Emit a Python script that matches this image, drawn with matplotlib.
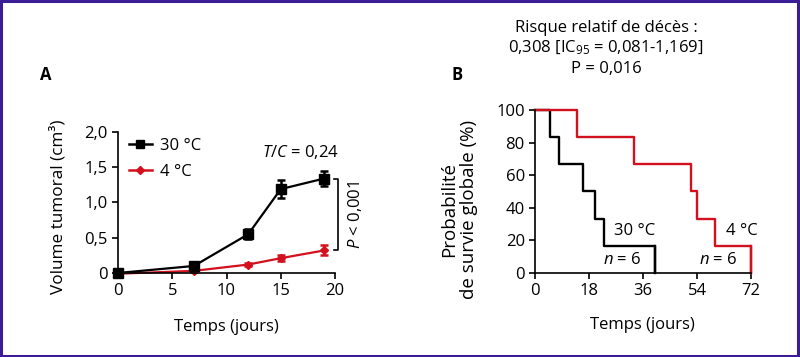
import numpy as np
import matplotlib
matplotlib.use('Agg')
import matplotlib.pyplot as plt
from matplotlib.patches import Rectangle
from matplotlib.lines import Line2D

plt.rcParams['font.family'] = ['Open Sans', 'DejaVu Sans']
plt.rcParams['mathtext.fontset'] = 'custom'
plt.rcParams['mathtext.rm'] = 'Open Sans'
plt.rcParams['mathtext.it'] = 'Open Sans:italic'
FS = 12

# Panel A : volume tumoral
jours = [0, 7, 12, 15, 19]
vol_30 = [0.0, 0.10, 0.55, 1.19, 1.34]
err_30 = [0.02, 0.03, 0.07, 0.13, 0.10]
vol_4 = [-0.01, 0.03, 0.12, 0.21, 0.32]
err_4 = [0.01, 0.01, 0.02, 0.04, 0.07]

# Panel B : survie globale (Kaplan-Meier)
t_30 = [0, 5, 8, 16, 20, 23, 40]
s_30 = [100, 83.3, 66.7, 50, 33.3, 16.7, 0]
t_4 = [0, 14, 33, 52, 54, 60, 72]
s_4 = [100, 83.3, 66.7, 50, 33.3, 16.7, 0]

rouge = '#d2101e'

fig = plt.figure(figsize=(8, 3.57), dpi=100)

def style_axes(ax):
    ax.spines['top'].set_visible(False)
    ax.spines['right'].set_visible(False)
    for s in ('left', 'bottom'):
        ax.spines[s].set_linewidth(1.2)
    ax.tick_params(direction='out', length=4.5, width=1.2, labelsize=FS, pad=3)

# ---- A
axA = fig.add_axes([0.1475, 0.2353, 0.2713, 0.395])
axA.errorbar(jours, vol_30, yerr=err_30, color='black', marker='s', ms=6.5,
             lw=1.6, elinewidth=1.8, capsize=3, capthick=1.8, clip_on=False,
             zorder=3)
axA.errorbar(jours, vol_4, yerr=err_4, color=rouge, marker='D', ms=4.5,
             lw=1.6, elinewidth=1.8, capsize=3, capthick=1.8, clip_on=False,
             zorder=2)
axA.set_xlim(0, 20)
axA.set_ylim(0, 2.0)
axA.set_xticks([0, 5, 10, 15, 20])
axA.set_yticks([0, 0.5, 1.0, 1.5, 2.0])
axA.set_yticklabels(['0', '0,5', '1,0', '1,5', '2,0'])
axA.set_xlabel('Temps (jours)', fontsize=FS, va='center')
axA.xaxis.set_label_coords(0.5, -0.383)
axA.set_ylabel('Volume tumoral (cm³)', fontsize=12.3, va='center')
axA.yaxis.set_label_coords(-0.276, 0.468)
style_axes(axA)
handles = [Line2D([], [], color='black', marker='s', ms=6, lw=1.8),
           Line2D([], [], color=rouge, marker='D', ms=4.5, lw=1.8)]
axA.legend(handles, ['30 °C', '4 °C'], loc='upper left', frameon=False,
           handlelength=1.4, bbox_to_anchor=(-0.02, 1.065), fontsize=FS,
           labelspacing=0.6, handletextpad=0.5)

axA.text(16.8, 1.72, '$T/C$ = 0,24', ha='center', va='center', fontsize=FS)
# bracket P
bx = 20.3
axA.plot([bx - 0.4, bx, bx, bx - 0.4], [vol_30[-1], vol_30[-1], vol_4[-1], vol_4[-1]],
         color='black', lw=1.2, clip_on=False)
axA.text(21.8, 0.83, '$P$ < 0,001', rotation=90, ha='center', va='center',
         fontsize=FS)

# ---- B
axB = fig.add_axes([0.669, 0.2353, 0.27, 0.4566])
axB.step(t_30, s_30, where='post', color='black', lw=1.7, clip_on=False)
axB.plot([t_30[-1], t_30[-1]], [s_30[-2], 0], color='black', lw=1.7)
axB.step(t_4, s_4, where='post', color=rouge, lw=1.7, clip_on=False)
axB.plot([t_4[-1], t_4[-1]], [s_4[-2], 0], color=rouge, lw=1.7, clip_on=False)
axB.set_xlim(0, 72)
axB.set_ylim(0, 100)
axB.set_xticks([0, 18, 36, 54, 72])
axB.set_yticks([0, 20, 40, 60, 80, 100])
axB.set_xlabel('Temps (jours)', fontsize=FS, va='center')
axB.xaxis.set_label_coords(0.495, -0.319)
axB.set_ylabel('Probabilité\nde survie globale (%)', fontsize=13.5,
               linespacing=1.1, va='center')
axB.yaxis.set_label_coords(-0.352, 0.39)
style_axes(axB)
axB.text(33.3, 26, '30 °C', ha='center', va='center', fontsize=FS)
axB.text(29, 8, '$n$ = 6', ha='center', va='center', fontsize=FS)
axB.text(69, 26, '4 °C', ha='center', va='center', fontsize=FS)
axB.text(61, 8, '$n$ = 6', ha='center', va='center', fontsize=FS)

# titres
fig.text(40 / 800, 1 - 75 / 357, 'A', fontweight='bold', fontsize=FS,
         ha='left', va='center')
fig.text(452 / 800, 1 - 75 / 357, 'B', fontweight='bold', fontsize=FS,
         ha='left', va='center')
fig.text(606 / 800, 1 - 28 / 357, 'Risque relatif de décès :', ha='center',
         va='center', fontsize=FS)
fig.text(606 / 800, 1 - 48 / 357, '0,308 [IC$_{95}$ = 0,081-1,169]', ha='center',
         va='center', fontsize=FS)
fig.text(606 / 800, 1 - 69 / 357, 'P = 0,016', ha='center', va='center',
         fontsize=FS)

# cadre
fig.patches.append(Rectangle((0.001, 0.002), 0.997, 0.995, transform=fig.transFigure,
                             fill=False, edgecolor='#3b1e96', lw=2.2))

fig.savefig('out.png', dpi=100)
